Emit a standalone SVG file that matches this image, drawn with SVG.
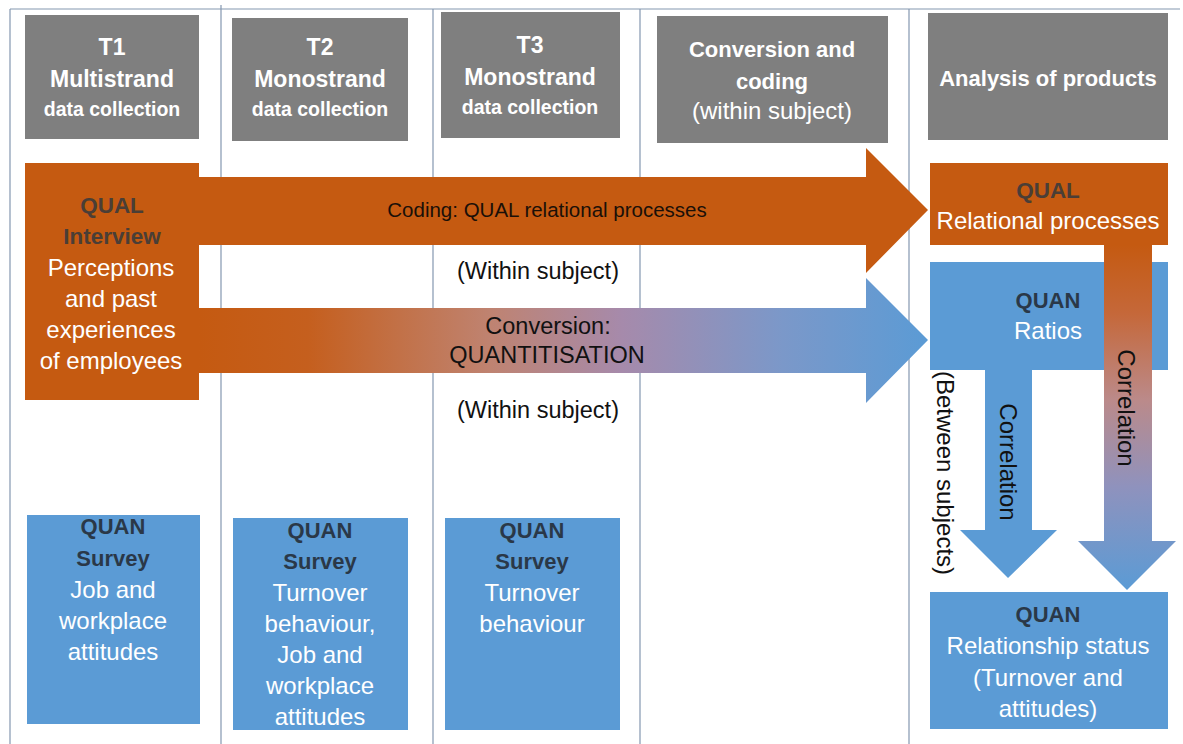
<svg xmlns="http://www.w3.org/2000/svg" width="1183" height="744" viewBox="0 0 1183 744">
  <defs>
    <style>
      .grid { stroke: #8497b0; stroke-width: 1.2; fill: none; }
      .hdr { fill: #7f7f7f; }
      .qual { fill: #c55a11; }
      .quan { fill: #5b9bd5; }
      text { font-family: "Liberation Sans", Arial, sans-serif; text-anchor: middle; }
      .ht { fill: #ffffff; font-weight: bold; font-size: 22px; }
      .hb { fill: #ffffff; font-weight: bold; font-size: 23px; }
      .hs { fill: #ffffff; font-weight: bold; font-size: 19.5px; }
      .hr { fill: #ffffff; font-size: 24px; }
      .w { fill: #ffffff; font-size: 24px; }
      .dq { fill: #4a3e36; font-weight: bold; font-size: 22.5px; }
      .dn { fill: #2a3848; font-weight: bold; font-size: 22px; }
      .k { fill: #111111; font-size: 23.5px; }
      .kv { fill: #111111; font-size: 24px; }
      .kc { fill: #1a1008; font-size: 20.5px; }
    </style>
    <linearGradient id="convGrad" gradientUnits="userSpaceOnUse" x1="199" y1="0" x2="928" y2="0">
      <stop offset="0" stop-color="#c55a11"/>
      <stop offset="0.15" stop-color="#c55f1e"/>
      <stop offset="0.4" stop-color="#bf8371"/>
      <stop offset="0.58" stop-color="#a68aab"/>
      <stop offset="0.8" stop-color="#7b98c9"/>
      <stop offset="1" stop-color="#5b9bd5"/>
    </linearGradient>
    <linearGradient id="corrGrad" gradientUnits="userSpaceOnUse" x1="0" y1="245" x2="0" y2="590">
      <stop offset="0" stop-color="#c55a11"/>
      <stop offset="0.2" stop-color="#c5683a"/>
      <stop offset="0.45" stop-color="#bb8a8a"/>
      <stop offset="0.7" stop-color="#8f92bd"/>
      <stop offset="1" stop-color="#5b9bd5"/>
    </linearGradient>
  </defs>

  <!-- column grid -->
  <g id="grid">
    <line class="grid" x1="10" y1="9" x2="1180" y2="9"/>
    <line class="grid" x1="10" y1="9" x2="10" y2="744"/>
    <line class="grid" x1="221" y1="5" x2="221" y2="744"/>
    <line class="grid" x1="433" y1="9" x2="433" y2="744"/>
    <line class="grid" x1="640" y1="9" x2="640" y2="744"/>
    <line class="grid" x1="909" y1="9" x2="909" y2="744"/>
  </g>

  <!-- column headers -->
  <g id="hdr-t1">
    <rect class="hdr" x="25" y="15" width="174" height="124"/>
    <text class="hb" x="112" y="55">T1</text>
    <text class="hb" x="112" y="87">Multistrand</text>
    <text class="hs" x="112" y="116">data collection</text>
  </g>
  <g id="hdr-t2">
    <rect class="hdr" x="232" y="18" width="176" height="123"/>
    <text class="hb" x="320" y="55">T2</text>
    <text class="hb" x="320" y="87">Monostrand</text>
    <text class="hs" x="320" y="116">data collection</text>
  </g>
  <g id="hdr-t3">
    <rect class="hdr" x="441" y="12" width="179" height="126"/>
    <text class="hb" x="530" y="53">T3</text>
    <text class="hb" x="530" y="85">Monostrand</text>
    <text class="hs" x="530" y="114">data collection</text>
  </g>
  <g id="hdr-conversion">
    <rect class="hdr" x="657" y="16" width="231" height="127"/>
    <text class="ht" x="772" y="57">Conversion and</text>
    <text class="ht" x="772" y="89">coding</text>
    <text class="hr" x="772" y="119">(within subject)</text>
  </g>
  <g id="hdr-analysis">
    <rect class="hdr" x="928" y="13" width="240" height="127"/>
    <text class="ht" x="1048" y="86">Analysis of products</text>
  </g>

  <!-- connectors -->
  <g id="connectors">
    <polygon id="arrow-quantitisation" fill="url(#convGrad)" points="199,308 866,308 866,278 928,340 866,403 866,373 199,373"/>
    <polygon id="arrow-coding" class="qual" points="199,177 866,177 866,148 928,210 866,273 866,245 199,245"/>
    <text class="kc" x="547" y="217">Coding: QUAL relational processes</text>
    <text class="k" x="538" y="279">(Within subject)</text>
    <text class="k" x="548" y="334">Conversion:</text>
    <text class="k" x="547" y="363">QUANTITISATION</text>
    <text class="k" x="538" y="418">(Within subject)</text>
  </g>

  <!-- qualitative interview -->
  <g id="qual-interview">
    <rect class="qual" x="25" y="163" width="174" height="237"/>
    <text class="dq" x="112" y="213">QUAL</text>
    <text class="dq" x="112" y="244">Interview</text>
    <text class="w" x="111" y="276">Perceptions</text>
    <text class="w" x="111" y="307">and past</text>
    <text class="w" x="111" y="338">experiences</text>
    <text class="w" x="111" y="369">of employees</text>
  </g>

  <!-- analysis products -->
  <g id="qual-relational">
    <rect class="qual" x="930" y="163" width="238" height="82"/>
    <text class="dq" x="1048" y="198">QUAL</text>
    <text class="w" x="1048" y="229">Relational processes</text>
  </g>
  <g id="quan-ratios">
    <rect class="quan" x="930" y="262" width="238" height="108"/>
    <text class="dn" x="1048" y="308">QUAN</text>
    <text class="w" x="1048" y="339">Ratios</text>
  </g>

  <g id="correlation-arrows">
    <polygon id="arrow-corr-between" class="quan" points="985,369 1032,369 1032,530 1057,530 1008,578 960,530 985,530"/>
    <polygon id="arrow-corr-processes" fill="url(#corrGrad)" points="1104,245 1152,245 1152,541 1176,541 1127,590 1078,541 1104,541"/>
    <text class="kv" transform="translate(1126,408) rotate(90)" x="0" y="8">Correlation</text>
    <text class="kv" transform="translate(1008,462) rotate(90)" x="0" y="8">Correlation</text>
    <text class="kv" transform="translate(945,473) rotate(90)" x="0" y="8">(Between subjects)</text>
  </g>

  <g id="quan-relationship">
    <rect class="quan" x="930" y="592" width="238" height="137"/>
    <text class="dn" x="1048" y="622">QUAN</text>
    <text class="w" x="1048" y="654">Relationship status</text>
    <text class="w" x="1048" y="686">(Turnover and</text>
    <text class="w" x="1048" y="717">attitudes)</text>
  </g>

  <!-- survey strands -->
  <g id="quan-survey-t1">
    <rect class="quan" x="27" y="515" width="173" height="209"/>
    <text class="dn" x="113" y="534">QUAN</text>
    <text class="dn" x="113" y="566">Survey</text>
    <text class="w" x="113" y="598">Job and</text>
    <text class="w" x="113" y="629">workplace</text>
    <text class="w" x="113" y="660">attitudes</text>
  </g>
  <g id="quan-survey-t2">
    <rect class="quan" x="233" y="518" width="175" height="212"/>
    <text class="dn" x="320" y="538">QUAN</text>
    <text class="dn" x="320" y="569">Survey</text>
    <text class="w" x="320" y="601">Turnover</text>
    <text class="w" x="320" y="632">behaviour,</text>
    <text class="w" x="320" y="663">Job and</text>
    <text class="w" x="320" y="694">workplace</text>
    <text class="w" x="320" y="725">attitudes</text>
  </g>
  <g id="quan-survey-t3">
    <rect class="quan" x="445" y="518" width="175" height="212"/>
    <text class="dn" x="532" y="538">QUAN</text>
    <text class="dn" x="532" y="569">Survey</text>
    <text class="w" x="532" y="601">Turnover</text>
    <text class="w" x="532" y="632">behaviour</text>
  </g>
</svg>
